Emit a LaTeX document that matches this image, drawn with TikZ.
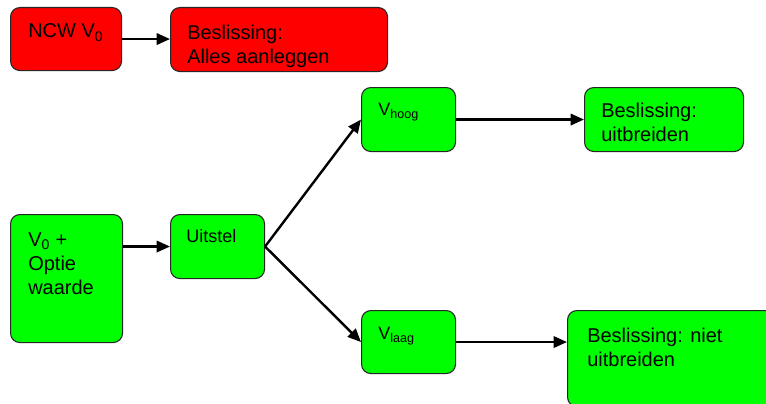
\documentclass[tikz,border=0pt]{standalone}
\usepackage{fontspec}
\setmainfont{Liberation Sans}
\usetikzlibrary{positioning,arrows.meta}

\definecolor{boxred}{RGB}{255,0,0}
\definecolor{boxgreen}{RGB}{0,255,0}

\begin{document}
\begin{tikzpicture}[x=0.75pt, y=-0.75pt,
		box/.style={draw=black!85, line width=0.8pt, rounded corners=7pt, anchor=north west, inner sep=0pt},
		redbox/.style={box, fill=boxred},
		greenbox/.style={box, fill=boxgreen},
		txt/.style={inner sep=0pt, align=left, font=\fontsize{15}{18}\selectfont},
		smalltxt/.style={txt, font=\fontsize{13.5}{17}\selectfont},
		link/.style={line width=1.8pt, -{Triangle[length=10pt,width=8.5pt]}}
	]
	\clip (0,0) rectangle (766,403);

	% top row: direct decision
	\node[redbox, minimum width=83.25pt, minimum height=47.25pt] (ncw) at (10,7) {};
	\node[redbox, minimum width=162.75pt, minimum height=48pt] (alles) at (170,7) {};
	\node[txt, below right=12.5pt and 13.5pt of ncw.north west] (ncw text) {NCW V\textsubscript{0}};
	\node[txt, below right=13pt and 12.75pt of alles.north west] (alles text) {Beslissing:\\Alles aanleggen};

	% option tree
	\node[greenbox, minimum width=84pt, minimum height=96pt] (vnul) at (10,214) {};
	\node[greenbox, minimum width=70.5pt, minimum height=48pt] (uitstel) at (170,214) {};
	\node[greenbox, minimum width=70.5pt, minimum height=48pt] (vhoog) at (361,87) {};
	\node[greenbox, minimum width=119.25pt, minimum height=48pt] (uitbreiden) at (584,87) {};
	\node[greenbox, minimum width=70.5pt, minimum height=47.25pt] (vlaag) at (361,310) {};
	\node[greenbox, minimum width=156pt, minimum height=72pt] (niet) at (567,310) {};

	\node[txt, below right=14pt and 13.5pt of vnul.north west] (vnul text) {V\textsubscript{0} +\\Optie\\waarde};
	\node[smalltxt, below right=11.5pt and 12pt of uitstel.north west] (uitstel text) {Uitstel};
	\node[smalltxt, below right=12pt and 12.75pt of vhoog.north west] (vhoog text) {V\textsubscript{hoog}};
	\node[txt, below right=12pt and 12.75pt of uitbreiden.north west] (uitbreiden text) {Beslissing:\\uitbreiden};
	\node[smalltxt, below right=12.5pt and 12.75pt of vlaag.north west] (vlaag text) {V\textsubscript{laag}};
	\node[txt, below right=13.5pt and 15pt of niet.north west] (niet text) {Beslissing: niet\\uitbreiden};

	% connectors
	\draw[link] (ncw.east) -- (ncw.east -| alles.west);
	\draw[link] (vnul.east |- uitstel.west) -- (uitstel.west);
	\draw[link] (uitstel.east) -- (vhoog.west);
	\draw[link] (uitstel.east) -- (vlaag.west);
	\draw[link] (vhoog.east) -- (uitbreiden.west);
	\draw[link] (vlaag.east) -- (vlaag.east -| niet.west);
\end{tikzpicture}
\end{document}
